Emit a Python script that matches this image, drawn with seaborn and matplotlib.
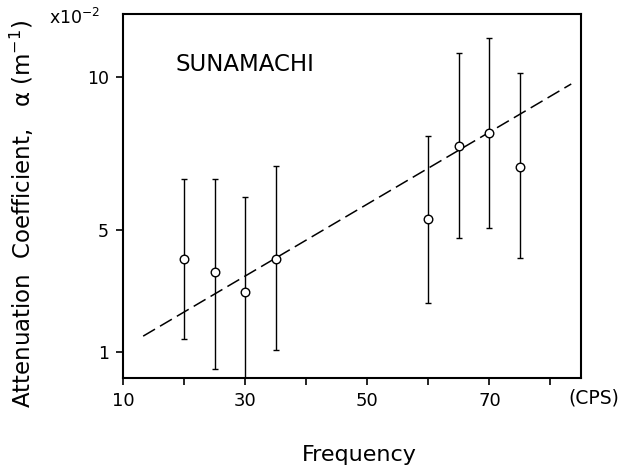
import matplotlib
matplotlib.use("Agg")
import matplotlib.pyplot as plt
import seaborn as sns
import pandas as pd

# Data (values x10^-2 m^-1)
freq = [20, 25, 30, 35, 60, 65, 70, 75]
alpha = [4.04, 3.62, 2.96, 4.05, 5.35, 7.74, 8.17, 7.05]
err_top = [6.66, 6.66, 6.07, 7.09, 8.07, 10.79, 11.28, 10.13]
err_bottom = [1.43, 0.45, 0.10, 1.07, 2.60, 4.73, 5.06, 4.08]
fit_x = [13.3, 83.4]
fit_y = [1.52, 9.77]
xticks = [10, 20, 30, 40, 50, 60, 70, 80]
xticklabels = ["10", "", "30", "", "50", "", "70", ""]
yticks = [1, 5, 10]
yticklabels = ["1", "5", "10"]

sns.set_theme(style="ticks")
plt.rcParams['font.family'] = ['DejaVu Sans']
plt.rcParams['text.color'] = 'black'
plt.rcParams['axes.labelcolor'] = 'black'
plt.rcParams['xtick.color'] = 'black'
plt.rcParams['ytick.color'] = 'black'

fig = plt.figure(figsize=(6.23, 4.70), dpi=100)
ax = fig.add_axes([123/623, 1-378/470, (581-123)/623, (378-14)/470])

df = pd.DataFrame({"freq": freq, "alpha": alpha})
fit = pd.DataFrame({"x": fit_x, "y": fit_y})

sns.lineplot(data=fit, x="x", y="y", ax=ax, color="black", linewidth=1.1,
             linestyle=(0, (9, 3.8)))

lower = [a - b for a, b in zip(alpha, err_bottom)]
upper = [t - a for a, t in zip(alpha, err_top)]
ax.errorbar(freq, alpha, yerr=[lower, upper], fmt="none", ecolor="black",
            elinewidth=1.0, capsize=2.5, capthick=1.0, zorder=3)

sns.scatterplot(data=df, x="freq", y="alpha", ax=ax, marker="o", s=38,
                facecolor="white", edgecolor="black", linewidth=1.0, zorder=4)

ax.set_xlim(10, 85)
ax.set_ylim(0.15, 12.06)
ax.set_xticks(xticks)
ax.set_xticklabels(xticklabels, fontsize=13)
ax.set_yticks(yticks)
ax.set_yticklabels(yticklabels, fontsize=12.5)
ax.tick_params(direction="out", length=5, width=1.2, colors="black", pad=5)

for s in ax.spines.values():
    s.set_linewidth(1.5)
    s.set_color("black")
    s.set_visible(True)

ax.set_xlabel("Frequency", fontsize=16)
ax.xaxis.set_label_coords(0.517, -0.185)
ax.set_ylabel("Attenuation  Coefficient,   α (m$^{-1}$)", fontsize=16.5)
ax.yaxis.set_label_coords(-0.19, 0.45)

ax.text(18.6, 10.4, "SUNAMACHI", fontsize=16.5, va="center", ha="left")
ax.text(0.9716, -0.055, "(CPS)", transform=ax.transAxes, fontsize=13.5,
        ha="left", va="center")
fig.text(75/623, 1-18/470, "x10$^{-2}$", fontsize=12.5, ha="center", va="center")

fig.savefig("out.png", dpi=100)
